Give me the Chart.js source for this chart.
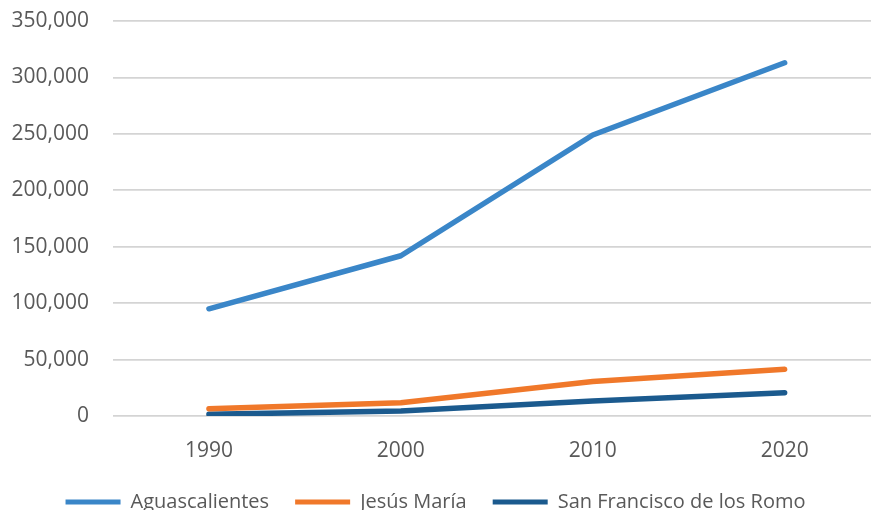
<!DOCTYPE html>
<html>
<head>
<meta charset="utf-8">
<script src="https://cdn.jsdelivr.net/npm/chart.js@4"></script>
<style>
  html, body { margin: 0; padding: 0; background: #fff; overflow: hidden; }
  #wrap { width: 871px; height: 522px; }
</style>
</head>
<body>
<div id="wrap"><canvas id="line-chart"></canvas></div>
<script>
// Población por municipio, 1990-2020
var years = [1990, 2000, 2010, 2020];
var aguascalientes = [95000, 142000, 249000, 313000];
var jesusMaria = [6500, 11800, 30500, 41500];
var sanFrancisco = [1500, 4400, 13300, 20700];
var yTicks = [0, 50000, 100000, 150000, 200000, 250000, 300000, 350000];

function points(values) {
	return years.map(function (yr, i) { return { x: yr, y: values[i] }; });
}

function series(label, values, color) {
	return {
		label: label,
		data: points(values),
		borderColor: color,
		backgroundColor: color,
		borderWidth: 5.5,
		borderCapStyle: 'round',
		borderJoinStyle: 'round',
		pointRadius: 0,
		tension: 0,
		fill: false
	};
}

function myChart() {
	var line = document.getElementById("line-chart");
	line.style.width = '871px';
	line.style.height = '522px';
	Chart.defaults.font.family = "'Open Sans', sans-serif";
	Chart.defaults.color = '#595959';

	new Chart(line, {
		type: 'line',
		data: {
			datasets: [
				series("Aguascalientes", aguascalientes, "#3a86c8"),
				series("Jesús María", jesusMaria, "#f0782a"),
				series("San Francisco de los Romo", sanFrancisco, "#1b5a8e")
			]
		},
		options: {
			responsive: false,
			animation: false,
			layout: { padding: { left: 0, top: 21, right: 0, bottom: 0 } },
			scales: {
				x: {
					type: 'linear',
					min: 1985,
					max: 2024.5,
					afterBuildTicks: function (axis) {
						axis.ticks = years.map(function (v) { return { value: v }; });
					},
					afterFit: function (axis) { axis.height = 50; },
					ticks: {
						font: { size: 21 },
						padding: 22,
						callback: function (v) { return String(v); }
					},
					grid: { display: false, drawTicks: false },
					border: { display: false }
				},
				y: {
					min: 0,
					max: 350000,
					afterBuildTicks: function (axis) {
						axis.ticks = yTicks.map(function (v) { return { value: v }; });
					},
					afterFit: function (axis) {
						axis.width = 113;
						axis.paddingTop = 0;
						axis.paddingBottom = 0;
					},
					ticks: {
						font: { size: 21 },
						padding: 24,
						callback: function (v) { return v.toLocaleString('en-US'); }
					},
					grid: { color: '#d4d4d4', lineWidth: 1.8, drawTicks: false },
					border: { display: false }
				}
			},
			plugins: {
				title: { display: false },
				tooltip: { enabled: false },
				legend: {
					position: 'bottom',
					labels: {
						font: { size: 20 },
						boxWidth: 55,
						boxHeight: 5,
						padding: 26,
						useBorderRadius: true,
						borderRadius: 2.5,
						generateLabels: function (chart) {
							return chart.data.datasets.map(function (ds, i) {
								return {
									text: ds.label,
									fillStyle: ds.borderColor,
									strokeStyle: ds.borderColor,
									lineWidth: 0,
									fontColor: '#595959',
									datasetIndex: i,
									hidden: false
								};
							});
						}
					}
				}
			}
		}
	});
}
myChart();
</script>
</body>
</html>
